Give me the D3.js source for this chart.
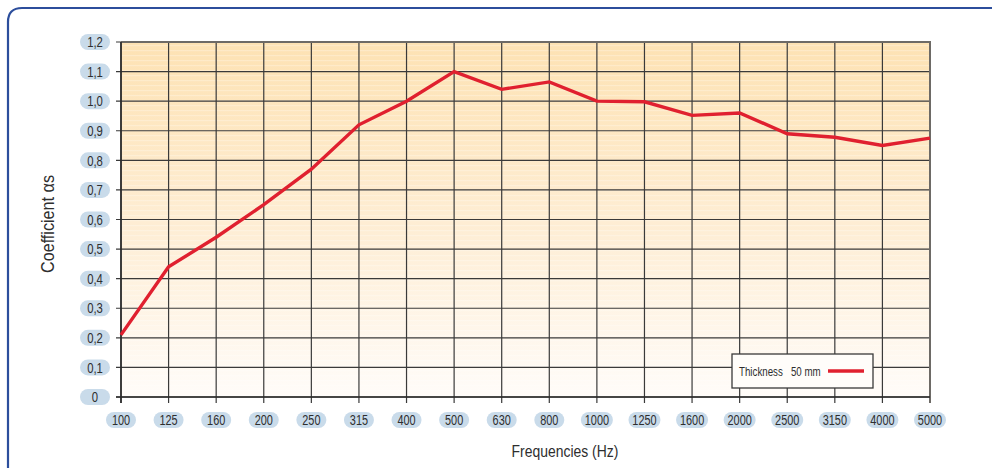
<!DOCTYPE html>
<html>
<head>
<meta charset="utf-8">
<script src="https://cdn.jsdelivr.net/npm/d3@7/dist/d3.min.js"></script>
<style>
  html, body { margin: 0; padding: 0; background: #fff; }
  svg { display: block; }
  .lbl { font-family: "Liberation Sans", "Arial", sans-serif; }
</style>
</head>
<body>
<svg id="chart" width="992" height="468"></svg>
<script>
const categories = ["100","125","160","200","250","315","400","500","630","800","1000","1250","1600","2000","2500","3150","4000","5000"];
const values = [0.21,0.44,0.54,0.65,0.77,0.92,1.00,1.10,1.04,1.065,1.00,0.998,0.952,0.96,0.89,0.878,0.85,0.875];
const yTicks = [0,0.1,0.2,0.3,0.4,0.5,0.6,0.7,0.8,0.9,1.0,1.1,1.2];
const yTickLabels = ["0","0,1","0,2","0,3","0,4","0,5","0,6","0,7","0,8","0,9","1,0","1,1","1,2"];
const seriesName = "Thickness   50 mm";
const xTitle = "Frequencies (Hz)";
const yTitle = "Coefficient αs";

const svg = d3.select("#chart");
const pLeft = 121, pRight = 930, pTop = 42, pBottom = 397;
const SX = 0.78; // horizontal condensing of the label font

const x = d3.scalePoint().domain(categories).range([pLeft, pRight]);
const y = d3.scaleLinear().domain([0, 1.2]).range([pBottom, pTop]);

// outer frame (blue, rounded top-left)
svg.append("path")
  .attr("d", `M8,470 L8,22 Q8,8 22,8 L995,8`)
  .attr("fill", "none").attr("stroke", "#2c4e9c").attr("stroke-width", 2.2);

// gradient background
const defs = svg.append("defs");
const grad = defs.append("linearGradient").attr("id", "bg").attr("x1", 0).attr("y1", 0).attr("x2", 0).attr("y2", 1);
grad.append("stop").attr("offset", "0%").attr("stop-color", "#fde2b3");
grad.append("stop").attr("offset", "55%").attr("stop-color", "#feeed6");
grad.append("stop").attr("offset", "100%").attr("stop-color", "#fffcf9");
const pat = defs.append("pattern").attr("id", "stripes").attr("width", 4).attr("height", 5).attr("patternUnits", "userSpaceOnUse");
pat.append("rect").attr("x", 0).attr("y", 0).attr("width", 4).attr("height", 1.2).attr("fill", "#ffffff").attr("opacity", 0.25);

svg.append("rect").attr("x", pLeft).attr("y", pTop).attr("width", pRight - pLeft).attr("height", pBottom - pTop).attr("fill", "url(#bg)");
svg.append("rect").attr("x", pLeft).attr("y", pTop).attr("width", pRight - pLeft).attr("height", pBottom - pTop).attr("fill", "url(#stripes)");

// grid
const grid = svg.append("g");
grid.selectAll("line.h").data(yTicks).enter().append("line")
  .attr("x1", pLeft - 5).attr("x2", pRight)
  .attr("y1", d => y(d)).attr("y2", d => y(d))
  .attr("stroke", "#3a3a3a").attr("stroke-width", 1.2);
grid.selectAll("line.v").data(categories).enter().append("line")
  .attr("x1", d => x(d)).attr("x2", d => x(d))
  .attr("y1", pTop).attr("y2", pBottom + 6)
  .attr("stroke", "#3a3a3a").attr("stroke-width", 1.2);
// frame edges
svg.append("line").attr("x1", pRight).attr("x2", pRight).attr("y1", pTop).attr("y2", pBottom + 6).attr("stroke", "#6d6a66").attr("stroke-width", 2);
svg.append("line").attr("x1", pLeft).attr("x2", pRight + 1).attr("y1", pTop).attr("y2", pTop).attr("stroke", "#6d6a66").attr("stroke-width", 2);
svg.append("line").attr("x1", pLeft).attr("x2", pLeft).attr("y1", pTop).attr("y2", pBottom + 6).attr("stroke", "#2a2a2a").attr("stroke-width", 1.6);
svg.append("line").attr("x1", pLeft - 5).attr("x2", pRight).attr("y1", pBottom).attr("y2", pBottom).attr("stroke", "#2a2a2a").attr("stroke-width", 1.6);

// y tick labels (pills)
const yl = svg.append("g").selectAll("g").data(yTicks).enter().append("g")
  .attr("transform", d => `translate(95,${y(d)})`);
yl.append("rect").attr("x", -15).attr("y", -8).attr("width", 30).attr("height", 16).attr("rx", 8)
  .attr("fill", "#c9dbea");
yl.append("text").attr("class", "lbl").attr("text-anchor", "middle").attr("dy", "0.36em")
  .attr("transform", `scale(${SX},1)`)
  .attr("font-size", 14.5).attr("fill", "#2e2e2e")
  .text((d, i) => yTickLabels[i]);

// x tick labels (pills)
const xl = svg.append("g").selectAll("g").data(categories).enter().append("g")
  .attr("transform", d => `translate(${x(d)},420)`);
xl.append("rect").attr("x", d => -(12 + d.length)).attr("y", -8)
  .attr("width", d => 24 + d.length * 2).attr("height", 16).attr("rx", 8)
  .attr("fill", "#c9dbea");
xl.append("text").attr("class", "lbl").attr("text-anchor", "middle").attr("dy", "0.36em")
  .attr("transform", `scale(${SX},1)`)
  .attr("font-size", 14).attr("fill", "#2e2e2e").text(d => d);

// line
const line = d3.line().x((d, i) => x(categories[i])).y(d => y(d));
svg.append("path").datum(values).attr("d", line)
  .attr("fill", "none").attr("stroke", "#e0202f").attr("stroke-width", 3.4)
  .attr("stroke-linejoin", "miter");

// legend
const lg = svg.append("g").attr("transform", "translate(732,354)");
lg.append("rect").attr("width", 141).attr("height", 34).attr("fill", "#fffdfa")
  .attr("stroke", "#3a3a3a").attr("stroke-width", 1.3);
lg.append("text").attr("class", "lbl").attr("transform", `translate(7,17) scale(${SX},1)`).attr("dy", "0.36em")
  .attr("font-size", 12.5).attr("fill", "#2e2e2e").attr("xml:space", "preserve").text(seriesName);
lg.append("line").attr("x1", 96).attr("x2", 132).attr("y1", 17).attr("y2", 17)
  .attr("stroke", "#e0202f").attr("stroke-width", 3.4);

// axis titles
svg.append("text").attr("class", "lbl").attr("transform", `translate(565,451) scale(0.82,1)`).attr("dy", "0.36em")
  .attr("text-anchor", "middle").attr("font-size", 17).attr("fill", "#2e2e2e").text(xTitle);
svg.append("text").attr("class", "lbl")
  .attr("transform", "translate(48,224) rotate(-90) scale(0.9,1)").attr("dy", "0.36em")
  .attr("text-anchor", "middle").attr("font-size", 18).attr("fill", "#2e2e2e").text(yTitle);
</script>
</body>
</html>
